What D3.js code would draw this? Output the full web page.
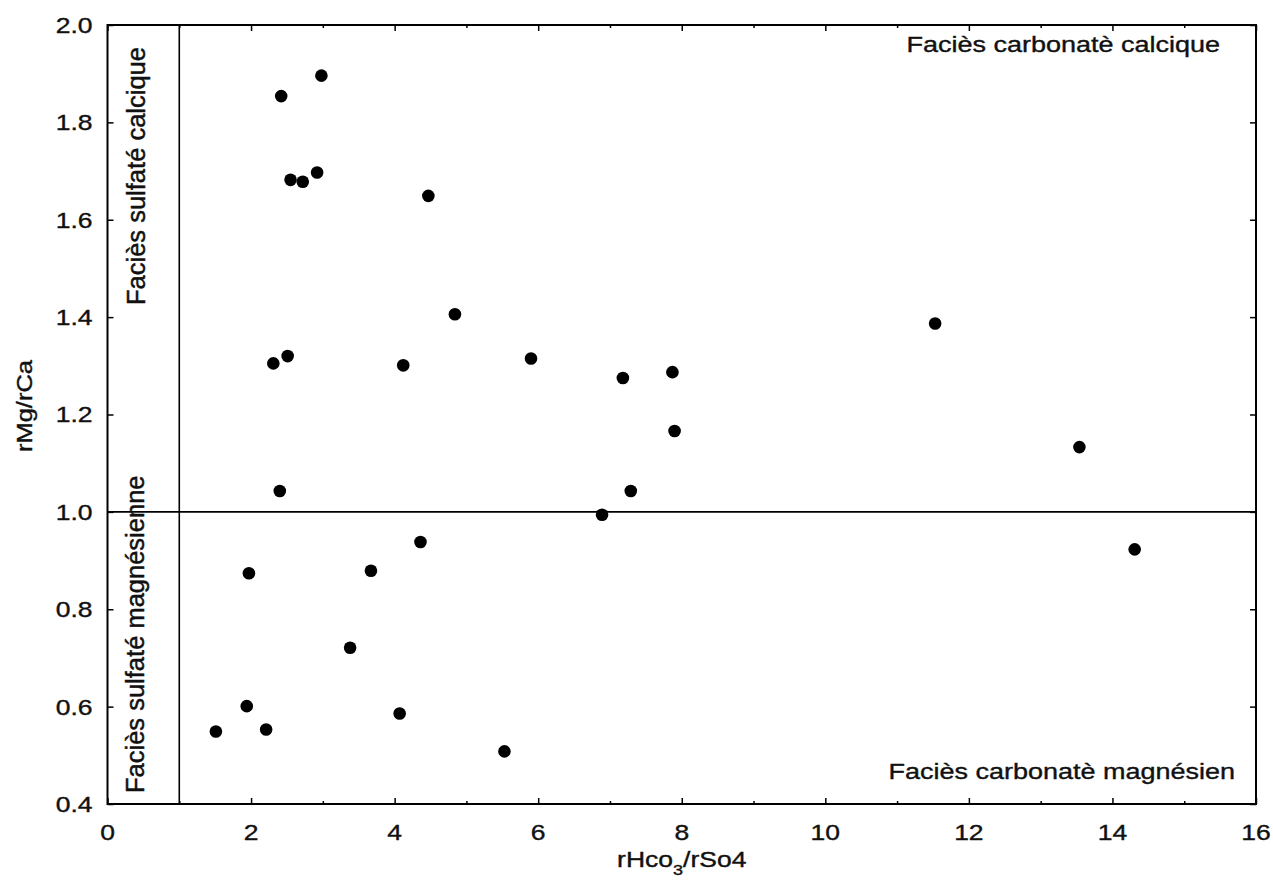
<!DOCTYPE html>
<html>
<head>
<meta charset="utf-8">
<script src="https://cdn.jsdelivr.net/npm/d3@7"></script>
<style>
  html, body { margin: 0; padding: 0; background: #fff; }
  svg { display: block; }
  text { font-family: "Liberation Sans", Arial, sans-serif; fill: #111; stroke: #111; stroke-width: 0.45px; }
</style>
</head>
<body>
<svg id="chart" width="1273" height="890"></svg>
<script>
// ---- data ----
const ratioHCO3_SO4 = [2.98, 2.42, 2.55, 2.72, 2.92, 4.47, 4.84, 2.31, 2.51, 4.12, 11.53, 5.90, 7.18, 7.87, 7.90, 13.54, 2.40, 7.29, 6.89, 14.31, 4.36, 1.97, 3.67, 3.38, 1.94, 1.51, 2.21, 4.07, 5.53];
const ratioMg_Ca    = [1.896, 1.854, 1.682, 1.678, 1.697, 1.649, 1.406, 1.305, 1.320, 1.301, 1.387, 1.315, 1.275, 1.287, 1.166, 1.133, 1.043, 1.043, 0.994, 0.923, 0.938, 0.874, 0.879, 0.721, 0.601, 0.549, 0.553, 0.586, 0.508];
const xDomain = [0, 16];
const yDomain = [0.4, 2.0];
const xTickValues = [0, 2, 4, 6, 8, 10, 12, 14, 16];
const xMinorValues = [1, 3, 5, 7, 9, 11, 13, 15];
const yTickValues = [0.4, 0.6, 0.8, 1.0, 1.2, 1.4, 1.6, 1.8, 2.0];
const xThreshold = [1];
const yThreshold = [1];
const faciesLabels = ["Faciès carbonatè calcique", "Faciès carbonatè magnésien", "Faciès sulfaté calcique", "Faciès sulfaté magnésienne"];
const xLabelMain = "rHco", xLabelSub = "3", xLabelEnd = "/rSo4";
const yLabel = "rMg/rCa";

// ---- layout ----
const svg = d3.select("#chart");
const pL = 107.5, pR = 1256, pT = 25, pB = 804;
const x = d3.scaleLinear().domain(xDomain).range([pL, pR]);
const y = d3.scaleLinear().domain(yDomain).range([pB, pT]);
const SQ = 0.84;

// threshold lines
svg.selectAll("line.vthr").data(xThreshold).enter().append("line")
  .attr("x1", d => x(d)).attr("x2", d => x(d)).attr("y1", pT).attr("y2", pB)
  .attr("stroke", "#000").attr("stroke-width", 1.6);
svg.selectAll("line.hthr").data(yThreshold).enter().append("line")
  .attr("x1", pL).attr("x2", pR).attr("y1", d => y(d)).attr("y2", d => y(d))
  .attr("stroke", "#000").attr("stroke-width", 1.6);

// axes with inward ticks
function styleAxis(g) {
  g.select(".domain").remove();
  g.selectAll(".tick line").attr("stroke", "#000").attr("stroke-width", 1.5);
  g.selectAll(".tick text").remove();
}
svg.append("g").attr("transform", `translate(0,${pB})`)
  .call(d3.axisTop(x).tickValues(xTickValues).tickSize(6)).call(styleAxis);
svg.append("g").attr("transform", `translate(0,${pB})`)
  .call(d3.axisTop(x).tickValues(xMinorValues).tickSize(3)).call(styleAxis);
svg.append("g").attr("transform", `translate(0,${pT})`)
  .call(d3.axisBottom(x).tickValues(xTickValues).tickSize(6)).call(styleAxis);
svg.append("g").attr("transform", `translate(0,${pT})`)
  .call(d3.axisBottom(x).tickValues(xMinorValues).tickSize(3)).call(styleAxis);
svg.append("g").attr("transform", `translate(${pL},0)`)
  .call(d3.axisRight(y).tickValues(yTickValues).tickSize(6)).call(styleAxis);
svg.append("g").attr("transform", `translate(${pR},0)`)
  .call(d3.axisLeft(y).tickValues(yTickValues).tickSize(6)).call(styleAxis);

// frame
svg.append("rect").attr("x", pL).attr("y", pT).attr("width", pR - pL).attr("height", pB - pT)
  .attr("fill", "none").attr("stroke", "#000").attr("stroke-width", 2);

// tick labels
svg.selectAll("text.xt").data(xTickValues).enter().append("text")
  .attr("class", "xt")
  .attr("transform", d => `translate(${x(d)},840) scale(1,${SQ})`)
  .attr("text-anchor", "middle").attr("font-size", 26.5)
  .text(d => d3.format("d")(d));
svg.selectAll("text.yt").data(yTickValues).enter().append("text")
  .attr("class", "yt")
  .attr("transform", d => `translate(92.5,${y(d) + 7.9}) scale(1,${SQ})`)
  .attr("text-anchor", "end").attr("font-size", 26.5)
  .text(d => d3.format(".1f")(d));

// axis titles
const xt = svg.append("text")
  .attr("transform", `translate(${(pL + pR) / 2},867) scale(1,${SQ})`)
  .attr("text-anchor", "middle").attr("font-size", 26.5);
xt.append("tspan").text(xLabelMain);
xt.append("tspan").attr("font-size", 18).attr("dy", 10).text(xLabelSub);
xt.append("tspan").attr("dy", -10).text(xLabelEnd);

svg.append("text")
  .attr("transform", `translate(32,406) rotate(-90) scale(1,0.85)`)
  .attr("text-anchor", "middle").attr("font-size", 25.5)
  .text(yLabel);

// facies labels
svg.append("text").attr("transform", `translate(1220,52) scale(1,${SQ})`)
  .attr("text-anchor", "end").attr("font-size", 27).text(faciesLabels[0]);
svg.append("text").attr("transform", `translate(1235,779) scale(1,${SQ})`)
  .attr("text-anchor", "end").attr("font-size", 27).text(faciesLabels[1]);
svg.append("text").attr("transform", `translate(145,305) rotate(-90)`)
  .attr("text-anchor", "start").attr("font-size", 25.5).text(faciesLabels[2]);
svg.append("text").attr("transform", `translate(144,793) rotate(-90)`)
  .attr("text-anchor", "start").attr("font-size", 25.5).text(faciesLabels[3]);

// points
const pts = ratioHCO3_SO4.map((v, i) => ({ x: v, y: ratioMg_Ca[i] }));
svg.selectAll("circle.pt").data(pts).enter().append("circle")
  .attr("class", "pt")
  .attr("cx", d => x(d.x)).attr("cy", d => y(d.y)).attr("r", 6.3)
  .attr("fill", "#000");
</script>
</body>
</html>
